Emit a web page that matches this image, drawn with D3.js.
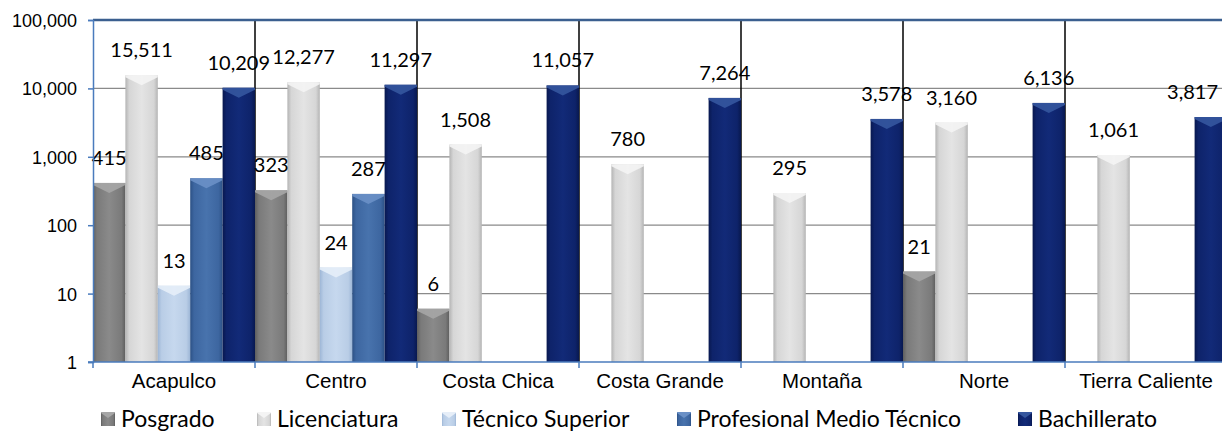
<!DOCTYPE html>
<html>
<head>
<meta charset="utf-8">
<script src="https://cdn.jsdelivr.net/npm/d3@7"></script>
<style>
  body { margin: 0; background: #fff; }
  .axis-text { font-family: "Liberation Sans", Arial, sans-serif; fill: #000; }
  .data-label { font-family: Lato, "Open Sans", sans-serif; fill: #000; }
</style>
</head>
<body>
<div id="chart"></div>
<script>
// Data
var regions = ["Acapulco", "Centro", "Costa Chica", "Costa Grande", "Montaña", "Norte", "Tierra Caliente"];
var seriesNames = ["Posgrado", "Licenciatura", "Técnico Superior", "Profesional Medio Técnico", "Bachillerato"];
var posgrado = [415, 323, 6, null, null, 21, null];
var licenciatura = [15511, 12277, 1508, 780, 295, 3160, 1061];
var tecnicoSuperior = [13, 24, null, null, null, null, null];
var profesionalMedio = [485, 287, null, null, null, null, null];
var bachillerato = [10209, 11297, 11057, 7264, 3578, 6136, 3817];
var yTicks = [1, 10, 100, 1000, 10000, 100000];

var seriesValues = [posgrado, licenciatura, tecnicoSuperior, profesionalMedio, bachillerato];

// colours per series: edge, base, light, top bevel
var palette = [
  { edge: "#5e5e5e", base: "#7a7a7a", light: "#8a8a8a", top: "#a6a6a6" },
  { edge: "#b4b4b4", base: "#d6d6d6", light: "#e4e4e4", top: "#f4f4f4" },
  { edge: "#9db6d6", base: "#b9cde6", light: "#c6d8ee", top: "#e6eef8" },
  { edge: "#2c5185", base: "#3d66a0", light: "#4873ad", top: "#6a90c6" },
  { edge: "#08184f", base: "#0e236a", light: "#122a78", top: "#35569e" }
];

// Chart Params
var svgWidth = 1222;
var svgHeight = 432;
var margin = { top: 20, left: 93 };
var groupWidth = 162;
var plotBottom = 362;

var svg = d3.select("#chart")
  .append("svg")
  .attr("width", svgWidth)
  .attr("height", svgHeight);

var defs = svg.append("defs");
palette.forEach(function(p, i) {
  var g = defs.append("linearGradient")
    .attr("id", "grad" + i)
    .attr("x1", "0%").attr("x2", "100%").attr("y1", "0%").attr("y2", "0%");
  g.append("stop").attr("offset", "0%").attr("stop-color", p.edge);
  g.append("stop").attr("offset", "12%").attr("stop-color", p.base);
  g.append("stop").attr("offset", "50%").attr("stop-color", p.light);
  g.append("stop").attr("offset", "88%").attr("stop-color", p.base);
  g.append("stop").attr("offset", "100%").attr("stop-color", p.edge);
});

// scales
var x0 = d3.scaleBand()
  .domain(regions)
  .range([margin.left, margin.left + groupWidth * regions.length])
  .padding(0);

var x1 = d3.scaleBand()
  .domain(seriesNames)
  .range([0, x0.bandwidth()])
  .padding(0);

var y = d3.scaleLog()
  .domain([1, 100000])
  .range([plotBottom, margin.top]);

// horizontal gridlines
svg.append("g")
  .selectAll("line")
  .data(yTicks.slice(1, -1))
  .enter()
  .append("line")
  .attr("x1", margin.left)
  .attr("x2", svgWidth)
  .attr("y1", d => y(d))
  .attr("y2", d => y(d))
  .attr("stroke", "#8a8a8a")
  .attr("stroke-width", 1.2);

// black vertical lines between regions
svg.append("g")
  .selectAll("line")
  .data(regions.slice(1))
  .enter()
  .append("line")
  .attr("x1", d => x0(d))
  .attr("x2", d => x0(d))
  .attr("y1", margin.top)
  .attr("y2", plotBottom)
  .attr("stroke", "#000")
  .attr("stroke-width", 1.5);

// flatten to bar records
var bars = [];
regions.forEach(function(r, ri) {
  seriesNames.forEach(function(s, si) {
    var v = seriesValues[si][ri];
    if (v != null) bars.push({ region: r, series: s, si: si, value: v });
  });
});

var barG = svg.append("g").selectAll("g.bar")
  .data(bars)
  .enter()
  .append("g")
  .attr("class", "bar");

barG.append("rect")
  .attr("x", d => x0(d.region) + x1(d.series))
  .attr("y", d => y(d.value))
  .attr("width", x1.bandwidth())
  .attr("height", d => plotBottom - y(d.value))
  .attr("fill", d => "url(#grad" + d.si + ")");

// top bevel chevron
barG.append("path")
  .attr("d", function(d) {
    var bx = x0(d.region) + x1(d.series);
    var w = x1.bandwidth();
    var by = y(d.value);
    var h = Math.min(10, (plotBottom - by));
    return "M" + bx + "," + by + "L" + (bx + w) + "," + by +
      "L" + (bx + w) + "," + (by + h * 0.2) + "L" + (bx + w / 2) + "," + (by + h) +
      "L" + bx + "," + (by + h * 0.2) + "Z";
  })
  .attr("fill", d => palette[d.si].top)
  .attr("opacity", 0.9);

// data labels (kept inside the picture at the right edge)
svg.append("g")
  .selectAll("text")
  .data(bars)
  .enter()
  .append("text")
  .attr("class", "data-label")
  .attr("y", d => y(d.value) - 18)
  .attr("text-anchor", "middle")
  .style("font-size", "20px")
  .text(d => d3.format(",")(d.value))
  .attr("x", function(d) {
    var cx = x0(d.region) + x1(d.series) + x1.bandwidth() / 2;
    var half = this.getComputedTextLength() / 2;
    return Math.min(cx, svgWidth - 4 - half);
  });

// plot area top border
svg.append("line")
  .attr("x1", margin.left).attr("x2", svgWidth)
  .attr("y1", margin.top).attr("y2", margin.top)
  .attr("stroke", "#3b5f8f")
  .attr("stroke-width", 2.5);

// y axis
var yAxis = d3.axisLeft(y)
  .tickValues(yTicks)
  .tickSize(5)
  .tickFormat(d3.format(","));

var yG = svg.append("g")
  .attr("transform", `translate(${margin.left}, 0)`)
  .call(yAxis);
yG.select(".domain").attr("stroke", "#4a7bbd").attr("stroke-width", 1.5);
yG.selectAll(".tick line").attr("stroke", "#4a7bbd").attr("stroke-width", 1.5);
yG.selectAll(".tick text")
  .attr("class", "axis-text")
  .attr("x", -16)
  .attr("dy", "0.36em")
  .style("font-size", "18px");

// x axis
var xAxis = d3.axisBottom(x0).tickSize(0).tickSizeOuter(0);
var xG = svg.append("g")
  .attr("transform", `translate(0, ${plotBottom})`)
  .call(xAxis);
xG.select(".domain").attr("stroke", "#4a7bbd").attr("stroke-width", 1.5)
  .attr("d", `M${margin.left - 5},0H${svgWidth}`);
xG.selectAll(".tick text")
  .attr("class", "axis-text")
  .attr("y", 11)
  .attr("dy", "0.71em")
  .style("font-size", "20.5px");

// tick marks between regions
xG.append("g")
  .selectAll("line")
  .data(regions)
  .enter()
  .append("line")
  .attr("x1", d => x0(d))
  .attr("x2", d => x0(d))
  .attr("y1", 0)
  .attr("y2", 6)
  .attr("stroke", "#4a7bbd")
  .attr("stroke-width", 1.5);

// legend
var legendX = [101, 257, 442, 677, 1018];
var legend = svg.append("g").attr("transform", "translate(0, 427)");
seriesNames.forEach(function(s, i) {
  var item = legend.append("g").attr("transform", `translate(${legendX[i]}, 0)`);
  item.append("rect")
    .attr("x", 0).attr("y", -15)
    .attr("width", 14).attr("height", 14)
    .attr("fill", "url(#grad" + i + ")");
  item.append("path")
    .attr("d", "M0,-15L14,-15L14,-14L7,-9L0,-14Z")
    .attr("fill", palette[i].top);
  item.append("text")
    .attr("class", "data-label")
    .attr("x", 20)
    .attr("y", 0)
    .style("font-size", "23px")
    .text(s);
});
</script>
</body>
</html>
